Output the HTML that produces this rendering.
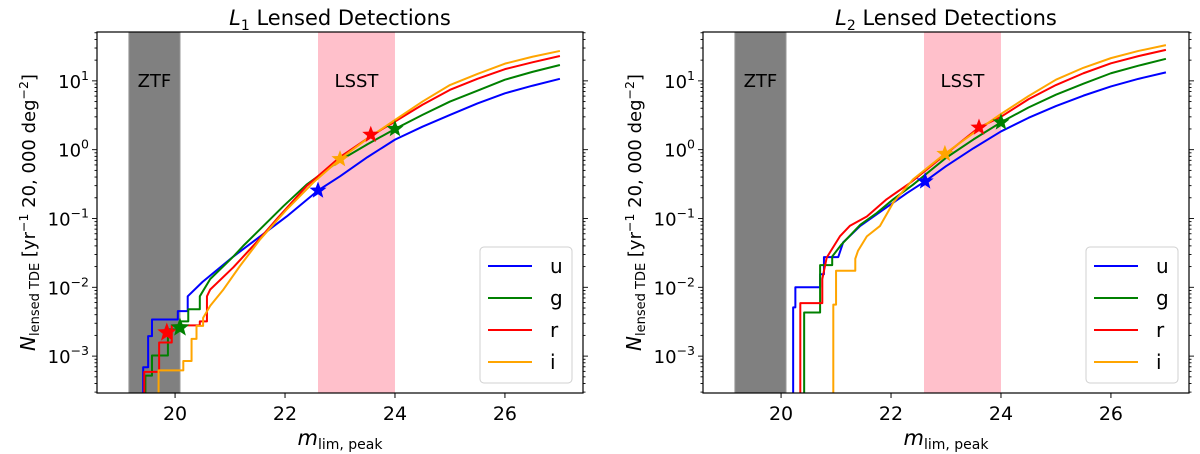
<!DOCTYPE html>
<html><head><meta charset="utf-8"><style>
body{margin:0;background:#fff;}
svg{display:block;font-family:"DejaVu Sans","Liberation Sans",sans-serif;}
</style></head><body>
<svg id="fig" width="1200" height="454" viewBox="0 0 1200 454" xmlns="http://www.w3.org/2000/svg"></svg>
<script>
// ---- data ----
const bands = ['u','g','r','i'];
const bandColors = ['#0000ff','#008000','#ff0000','#ffa500'];
const xTicks = [20,22,24,26];
const yTickExps = [-3,-2,-1,0,1];
// Panel L1
const L1_u_mag = [19.42,19.42,19.51,19.51,19.58,19.58,20.05,20.05,20.23,20.23,20.5,21.06,21.55,22.03,22.6,23.0,23.5,24,24.5,25,25.5,26,26.5,27];
const L1_u_val = [1e-4,6.9e-4,6.9e-4,1.95e-3,1.95e-3,3.4e-3,3.4e-3,4.5e-3,4.5e-3,7.4e-3,0.012,0.028,0.055,0.107,0.255,0.41,0.78,1.4,2.16,3.2,4.7,6.6,8.5,10.7];
const L1_g_mag = [19.46,19.46,19.58,19.58,19.87,19.87,20.09,20.09,20.24,20.24,20.45,20.45,20.64,21.06,21.24,21.97,22.39,23.0,23.5,24,24.5,25,25.5,26,26.5,27];
const L1_g_val = [1e-4,5.2e-4,5.2e-4,1.02e-3,1.02e-3,2.45e-3,2.45e-3,3.2e-3,3.2e-3,4.8e-3,4.8e-3,7.4e-3,0.0132,0.028,0.04,0.151,0.31,0.70,1.2,2.0,3.2,5.0,7.2,10.4,13.5,17];
const L1_r_mag = [19.44,19.44,19.71,19.71,19.94,19.94,20.45,20.45,20.58,20.58,20.64,21.06,21.48,21.85,22.39,23.0,23.6,24,24.5,25,25.5,26,26.5,27];
const L1_r_val = [1e-4,5.9e-4,5.9e-4,1.58e-3,1.58e-3,2.8e-3,2.8e-3,3.2e-3,3.2e-3,7.4e-3,9.3e-3,0.0195,0.045,0.098,0.295,0.78,1.65,2.57,4.5,7.4,10.7,14.8,18.6,23];
const L1_i_mag = [19.70,19.70,20.15,20.15,20.30,20.30,20.39,20.39,20.51,20.51,20.64,20.88,21.18,21.55,22.03,22.51,23.0,23.5,24,24.5,25,25.5,26,26.5,27];
const L1_i_val = [1e-4,6.2e-4,6.2e-4,8.5e-4,8.5e-4,1.78e-3,1.78e-3,2.75e-3,2.75e-3,3.6e-3,5.4e-3,9.3e-3,0.0204,0.05,0.135,0.33,0.73,1.45,2.7,5.0,8.7,12.6,17.8,22.4,27.2];
const L1_star_mag = [22.6,24.0,23.56,23.0];
const L1_star_val = [0.255,2.0,1.65,0.73];
const L1_big_mag = [19.85,20.09];
const L1_big_val = [2.2e-3,2.6e-3];
// Panel L2
const L2_u_mag = [20.22,20.22,20.26,20.26,20.71,20.71,20.78,20.78,21.04,21.13,21.44,21.74,22.04,22.29,22.62,23.0,23.5,24,24.5,25,25.5,26,26.5,27];
const L2_u_val = [1e-4,5.1e-3,5.1e-3,0.01,0.01,0.0155,0.0155,0.0275,0.0275,0.045,0.078,0.115,0.17,0.234,0.347,0.575,1.05,1.84,2.9,4.3,6.1,8.3,10.7,13.3];
const L2_g_mag = [20.42,20.42,20.71,20.71,20.93,20.93,21.10,21.44,21.74,22.04,22.40,23.0,23.5,24,24.5,25,25.5,26,26.5,27];
const L2_g_val = [1e-4,4.3e-3,4.3e-3,0.021,0.021,0.028,0.042,0.081,0.12,0.19,0.31,0.76,1.41,2.5,4.1,6.3,9.1,12.9,16.6,20.9];
const L2_r_mag = [20.35,20.35,20.75,20.75,20.83,21.07,21.25,21.56,21.92,22.35,23.0,23.6,24,24.5,25,25.5,26,26.5,27];
const L2_r_val = [1e-4,5.9e-3,5.9e-3,0.0132,0.027,0.055,0.078,0.107,0.19,0.33,0.87,2.1,3.0,5.4,8.7,12.9,18,22.9,28.2];
const L2_i_mag = [20.95,20.95,21.0,21.0,21.35,21.35,21.40,21.56,21.80,22.04,22.40,22.98,23.5,24,24.5,25,25.5,26,26.5,27];
const L2_i_val = [1e-4,5.6e-3,5.6e-3,0.0174,0.0174,0.026,0.034,0.055,0.078,0.17,0.37,0.87,1.74,3.3,6.0,10.4,15.5,21.4,27.2,33.1];
const L2_star_mag = [22.62,24.0,23.6,22.98];
const L2_star_val = [0.347,2.5,2.1,0.87];
const ztfBand = [19.16,20.09];
const lsstBand = [22.6,24.0];

const NS='http://www.w3.org/2000/svg';
const svg=document.getElementById('fig');
function mk(tag,attrs,parent){const e=document.createElementNS(NS,tag);for(const k in attrs)e.setAttribute(k,attrs[k]);(parent||svg).appendChild(e);return e;}

const XMIN=18.58,XMAX=27.42,LMIN=-3.536,LMAX=1.71,TOP=32,BOT=393;
function starPath(cx,cy,R){const r=R*0.42;let d='';for(let k=0;k<10;k++){const a=-Math.PI/2+k*Math.PI/5;const rr=k%2?r:R;d+=(k?'L':'M')+(cx+rr*Math.cos(a)).toFixed(2)+','+(cy+rr*Math.sin(a)).toFixed(2);}return d+'Z';}

function panel(id,left,right,sub,series,sMag,sVal,bigMag,bigVal){
  const W=right-left;
  const xs=m=>left+(m-XMIN)/(XMAX-XMIN)*W;
  const ys=v=>BOT-(Math.log10(v)-LMIN)/(LMAX-LMIN)*(BOT-TOP);
  const g=mk('g',{});
  
  
  const cp=mk('clipPath',{id:'clip'+id},g);mk('rect',{x:left,y:TOP,width:W,height:BOT-TOP},cp);
  const ztf=mk('rect',{x:xs(ztfBand[0]),y:TOP,width:xs(ztfBand[1])-xs(ztfBand[0]),height:BOT-TOP,fill:'#808080',stroke:'#9a9a9a','stroke-width':1},g);
  
  
  const lsst=mk('rect',{x:xs(lsstBand[0]),y:TOP,width:xs(lsstBand[1])-xs(lsstBand[0]),height:BOT-TOP,fill:'#ffc0cb'},g);
  
  
  let t=mk('text',{x:(xs(ztfBand[0])+xs(ztfBand[1]))/2,y:87,'font-size':18,'text-anchor':'middle',fill:'#000'},g);t.textContent='ZTF';
  
  
  t=mk('text',{x:(xs(lsstBand[0])+xs(lsstBand[1]))/2,y:87,'font-size':18,'text-anchor':'middle',fill:'#000'},g);t.textContent='LSST';
  
  
  const lg=mk('g',{'clip-path':'url(#clip'+id+')'},g);
  series.forEach((s,i)=>{
    const d=s[0].map((m,j)=>(j?'L':'M')+xs(m).toFixed(2)+','+ys(s[1][j]).toFixed(2)).join('');
    const p=mk('path',{d:d,fill:'none',stroke:bandColors[i],'stroke-width':2,'stroke-linejoin':'round'},lg);
    
    
  });
  if(bigMag){bigMag.forEach((m,j)=>{
    const p=mk('path',{d:starPath(xs(m),ys(bigVal[j]),10),fill:bandColors[j===0?2:1]},lg);
    
    
  });}
  sMag.forEach((m,j)=>{
    const p=mk('path',{d:starPath(xs(m),ys(sVal[j]),9),fill:bandColors[j]},lg);
    
    
  });
  const fr=mk('rect',{x:left,y:TOP,width:W,height:BOT-TOP,fill:'none',stroke:'#000','stroke-width':1.2},g);
  
  
  xTicks.forEach(v=>{
    mk('line',{x1:xs(v),x2:xs(v),y1:BOT,y2:BOT+5,stroke:'#000','stroke-width':1},g);
    const tx=mk('text',{x:xs(v),y:420,'font-size':19,'text-anchor':'middle'},g);tx.textContent=v;
    
    
  });
  for(let e=-4;e<=1;e++){for(let k=1;k<=9;k++){const lv=e+Math.log10(k);if(lv<LMIN||lv>LMAX)continue;const y=BOT-(lv-LMIN)/(LMAX-LMIN)*(BOT-TOP);const L=k===1?5:2.5;
    mk('line',{x1:left-L,x2:left,y1:y,y2:y,stroke:'#000','stroke-width':0.9},g);
    mk('line',{x1:right,x2:right+L,y1:y,y2:y,stroke:'#000','stroke-width':0.9},g);}}
  yTickExps.forEach(e=>{
    const y=ys(Math.pow(10,e));
    const tx=mk('text',{x:left-8,y:y+7,'font-size':18,'text-anchor':'end'},g);
    
    
    const ex=(e<0?'\u2212':'')+Math.abs(e);
    tx.innerHTML='10<tspan dy="-8" font-size="12.5">'+ex+'</tspan>';
  });
  const cx=(left+right)/2;
  const ti=mk('text',{x:cx,y:25,'font-size':21,'text-anchor':'middle'},g);
  ti.innerHTML='<tspan font-style="italic">L</tspan><tspan dy="5" font-size="14">'+sub+'</tspan><tspan dy="-5"> Lensed Detections</tspan>';
  
  
  const xl=mk('text',{x:cx,y:445,'font-size':19,'text-anchor':'middle'},g);
  xl.innerHTML='<tspan font-style="italic" font-size="21">m</tspan><tspan dy="4" font-size="14">lim, peak</tspan>';
  
  
  const yl=mk('text',{x:0,y:0,'font-size':18,'text-anchor':'middle',transform:'translate('+(left-62)+','+((TOP+BOT)/2)+') rotate(-90)'},g);
  yl.innerHTML='<tspan font-style="italic" font-size="20">N</tspan><tspan dy="4" font-size="13">lensed TDE</tspan><tspan dy="-4"> [yr</tspan><tspan dy="-7" font-size="12.5">\u22121</tspan><tspan dy="7"> 20, 000 deg</tspan><tspan dy="-7" font-size="12.5">\u22122</tspan><tspan dy="7">]</tspan>';
  
  
  const lx=right-103, ly=247;
  const leg=mk('g',{},g);
  
  
  mk('rect',{x:lx,y:ly,width:92,height:136,rx:4,fill:'#fff','fill-opacity':0.8,stroke:'#d0d0d0','stroke-width':1},leg);
  bands.forEach((b,i)=>{
    const y=ly+19+i*32;
    const e=mk('g',{},leg);
    
    
    mk('line',{x1:lx+8,x2:lx+52,y1:y,y2:y,stroke:bandColors[i],'stroke-width':2},e);
    const tt=mk('text',{x:lx+70,y:y+7,'font-size':20},e);tt.textContent=b;
  });
}
panel('l1',97,583,'1',[[L1_u_mag,L1_u_val],[L1_g_mag,L1_g_val],[L1_r_mag,L1_r_val],[L1_i_mag,L1_i_val]],L1_star_mag,L1_star_val,L1_big_mag,L1_big_val);
panel('l2',703,1189,'2',[[L2_u_mag,L2_u_val],[L2_g_mag,L2_g_val],[L2_r_mag,L2_r_val],[L2_i_mag,L2_i_val]],L2_star_mag,L2_star_val,null,null);
</script>
</body></html>
